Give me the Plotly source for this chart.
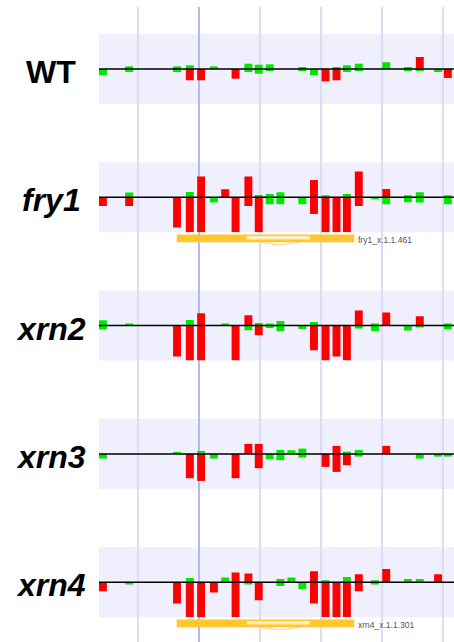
import plotly.graph_objects as go

# ---------------- data ----------------
# probe centre positions (bp, relative to the marked position)
POS = [-1580, -1150, -365, -155, 30, 240, 425, 595, 805, 975, 1155, 1330, 1510,
       1690, 1880, 2070, 2250, 2420, 2615, 2880, 3065, 3420, 3615, 3915, 4075]
N = None
SAMPLES = ["WT", "fry1", "xrn2", "xrn3", "xrn4"]

WT_UP = [N, 0.27, 0.27, 0.37, N, 0.27, N, N, 0.53, 0.43, 0.47, N, N,
         0.2, N, N, 0.2, 0.37, 0.53, N, 0.68, 0.13, 1.2, N, N]
WT_DN = [-0.63, -0.3, -0.3, -1.13, -1.13, N, N, -0.97, -0.3, -0.47, -0.2, N, N,
         -0.2, -0.63, -1.23, -1.13, -0.3, -0.2, N, N, -0.2, -0.2, -0.3, -0.9]

FRY1_UP = [N, 0.47, N, 0.53, 2.07, N, 0.8, N, 2.07, 0.23, 0.33, 0.5, N,
           N, 1.73, 0.13, N, 0.33, 2.57, N, 0.83, 0.13, 0.5, N, 0.13]
FRY1_DN = [-0.87, -0.87, -3.03, -3.5, -3.5, -0.53, N, -3.5, -0.87, -3.5, -0.7, -0.7, N,
           -0.7, -1.67, -3.5, -3.5, -3.5, -0.87, -0.2, -0.7, -0.5, -0.53, N, -0.7]

XRN2_UP = [0.53, 0.2, N, 0.57, 1.23, N, 0.2, N, 1.03, 0.27, 0.17, 0.47, N,
           N, 0.37, N, N, N, 1.5, 0.2, 1.3, N, 0.93, N, 0.2]
XRN2_DN = [-0.4, N, -3.1, -3.5, -3.5, N, N, -3.5, -0.47, -0.97, -0.23, -0.53, N,
           -0.33, -2.47, -3.5, -3.1, -3.5, -0.3, -0.53, N, -0.5, -0.2, N, -0.37]

XRN3_UP = [N, N, 0.17, N, 0.3, N, N, N, 1.0, 1.0, N, 0.4, 0.37,
           0.53, N, N, 0.8, 0.23, 0.4, N, 0.8, N, N, N, N]
XRN3_DN = [-0.47, N, N, -2.43, -2.7, -0.47, N, -2.43, N, -1.43, -0.53, -0.63, N,
           -0.37, N, -1.3, -1.8, -1.13, -0.27, N, N, N, -0.47, -0.27, -0.27]

XRN4_UP = [N, N, N, 0.43, N, N, 0.47, 0.97, 0.87, N, N, 0.33, 0.47,
           N, 1.1, 0.2, N, 0.53, 0.8, 0.2, 1.33, 0.33, 0.33, 0.8, N]
XRN4_DN = [-0.9, -0.23, -2.13, -3.5, -3.5, -1.03, N, -3.5, -0.23, -1.8, N, -0.37, N,
           -0.67, -2.13, -3.5, -3.5, -3.5, -0.9, -0.23, N, N, N, N, N]

UP = [WT_UP, FRY1_UP, XRN2_UP, XRN3_UP, XRN4_UP]
DN = [WT_DN, FRY1_DN, XRN2_DN, XRN3_DN, XRN4_DN]
THRESH = 0.75            # |value| at/above which a probe is drawn red

# gene model (bp) shown under fry1 and xrn4
GENE_SPAN = [-370, 2540]
GENE_LIGHT = [780, 1815]
GENE_INTRON = [990, 1640]
GENE_LABELS = {1: "fry1_x.1.1.461", 4: "xrn4_x.1.1.301"}

# ---------------- layout constants ----------------
W, H = 454, 642
PLOT_LEFT = 99
X_RANGE = [-1644, 4176]
YR = 3.5
BAND_TOP0, BAND_STEP, BAND_H = 34, 128.3, 70
RED, GREEN = "#ff0000", "#00e800"
BAND = "#efeffd"
BAR_W = 130


def py(px):
    return 1 - px / H


fig = go.Figure()
# background subplot (carries the full-height grid lines)
fig.add_trace(go.Scatter(x=[], y=[], xaxis="x", yaxis="y", showlegend=False,
                         hoverinfo="skip"))

layout = dict(
    width=W, height=H, margin=dict(l=0, r=0, t=0, b=0),
    paper_bgcolor="white", plot_bgcolor="rgba(0,0,0,0)",
    showlegend=False, barmode="overlay",
    xaxis=dict(domain=[PLOT_LEFT / W, 1], range=X_RANGE, anchor="y",
               showgrid=True, dtick=1000, tick0=0, gridcolor="#dcdcf8", gridwidth=1.5,
               zeroline=True, zerolinecolor="#b6b6f3", zerolinewidth=2,
               showticklabels=False, ticks="", showline=False, fixedrange=True),
    yaxis=dict(domain=[0, py(7)], range=[0, 1], visible=False, fixedrange=True),
)

shapes, annotations = [], []
for i, name in enumerate(SAMPLES):
    top = BAND_TOP0 + BAND_STEP * i
    bot = top + BAND_H
    ax = "y%d" % (i + 2)
    layout["yaxis%d" % (i + 2)] = dict(domain=[py(bot), py(top)], range=[-YR, YR],
                                       anchor="x", visible=False, fixedrange=True)
    # band
    shapes.append(dict(type="rect", xref="paper", yref="paper",
                       x0=PLOT_LEFT / W, x1=1, y0=py(bot), y1=py(top),
                       fillcolor=BAND, line=dict(width=0), layer="below"))
    for vals in (UP[i], DN[i]):
        cols = [RED if (v is not None and abs(v) >= THRESH) else GREEN for v in vals]
        fig.add_trace(go.Bar(x=POS, y=vals, width=BAR_W, marker=dict(color=cols, line=dict(width=0)),
                             xaxis="x", yaxis=ax, hoverinfo="skip"))
    # zero line
    shapes.append(dict(type="line", xref="x domain", x0=0, x1=1, yref=ax, y0=0, y1=0,
                       line=dict(color="black", width=1.5), layer="above"))
    # sample label
    txt = "<b>%s</b>" % name if name == "WT" else "<b><i>%s</i></b>" % name
    annotations.append(dict(text=txt, xref="paper", x=51 / W, yref=ax, y=0,
                            xanchor="center", yanchor="middle", showarrow=False,
                            yshift=-3,
                            font=dict(family="Liberation Sans, Arial", size=32, color="black")))
    # gene model
    if i in GENE_LABELS:
        shapes.append(dict(type="rect", xref="x", yref="paper",
                           x0=GENE_SPAN[0], x1=GENE_SPAN[1], y0=py(bot + 10), y1=py(bot + 2.3),
                           fillcolor="#ffc72c", line=dict(width=0)))
        shapes.append(dict(type="rect", xref="x", yref="paper",
                           x0=GENE_LIGHT[0], x1=GENE_LIGHT[1], y0=py(bot + 7.3), y1=py(bot + 3.8),
                           fillcolor="#fff0c4", line=dict(width=0)))
        mid = (GENE_INTRON[0] + GENE_INTRON[1]) / 2
        shapes.append(dict(type="path", xref="x", yref="paper",
                           path="M %f,%f L %f,%f L %f,%f" % (GENE_INTRON[0], py(bot + 10),
                                                             mid, py(bot + 12.8),
                                                             GENE_INTRON[1], py(bot + 10)),
                           line=dict(color="#ffd66a", width=1)))
        annotations.append(dict(text=GENE_LABELS[i], xref="x", x=GENE_SPAN[1] + 25,
                                yref="paper", y=py(bot + 7.5), xanchor="left", yanchor="middle",
                                showarrow=False,
                                font=dict(family="Liberation Sans, Arial", size=8.5, color="#555555")))

layout["shapes"] = shapes
layout["annotations"] = annotations
fig.update_layout(**layout)
fig.write_html("out.html", config={"displayModeBar": False},
               post_script="document.body.style.margin='0';document.body.style.overflow='hidden';")
